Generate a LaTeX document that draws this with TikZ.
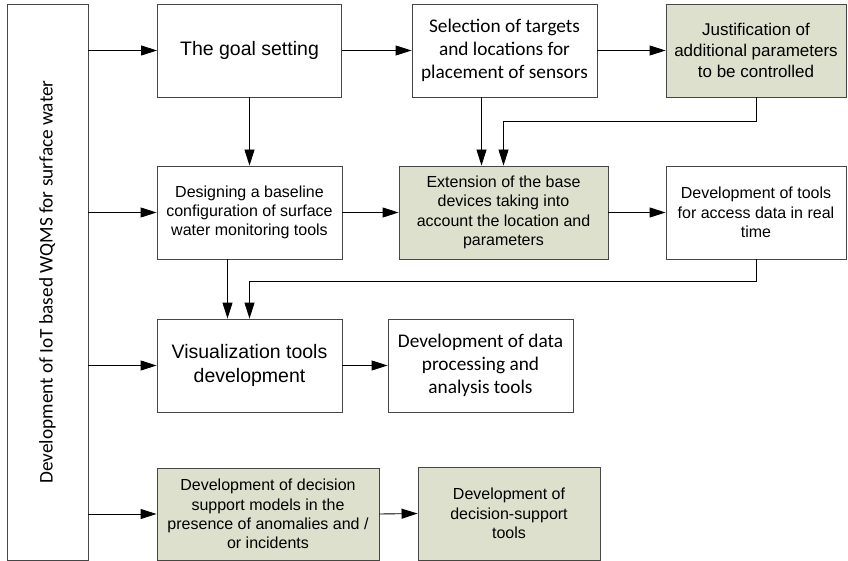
\documentclass[tikz,border=0pt]{standalone}
\usepackage{fontspec}
\setmainfont{Liberation Sans}
\newfontfamily\calfont{Carlito}
\usetikzlibrary{arrows.meta}
\definecolor{sage}{RGB}{221,224,204}
\definecolor{edgegray}{RGB}{70,70,70}

\begin{document}
\begin{tikzpicture}[x=1pt,y=-1pt,
  box/.style={draw=edgegray,line width=0.9pt,fill=white,align=center,inner sep=0pt,
    minimum height=93,font=\fontsize{16}{19.3}\selectfont},
  tint/.style={box,fill=sage},
  big/.style={font=\fontsize{19.5}{23.2}\selectfont},
  cal/.style={font=\calfont\fontsize{19.3}{23}\selectfont},
  arr/.style={-{Triangle[length=16pt,width=10pt]},line width=0.9pt}]
  \useasboundingbox (0,0) rectangle (848,561);
  % left column
  \node[box,cal,rotate=90,minimum width=556,minimum height=81] (dev) at (47.5,282)
    {Development of IoT based WQMS for surface water};
  % first row
  \node[box,big,minimum width=184] (goal) at (249.5,50.5) {The goal setting};
  \node[box,cal,minimum width=185] (sel) at (504.5,50.5)
    {Selection of targets\\and locations for\\placement of sensors};
  \node[tint,font=\fontsize{17}{21}\selectfont,minimum width=180] (just) at (756,50.5)
    {Justification of\\additional parameters\\to be controlled};
  % second row
  \node[box,minimum width=185] (design) at (249.5,212.5)
    {Designing a baseline\\configuration of surface\\water monitoring tools};
  \node[tint,minimum width=209] (ext) at (503.5,212.5)
    {Extension of the base\\devices taking into\\account the location and\\parameters};
  \node[box,minimum width=180] (access) at (756,212.5)
    {Development of tools\\for access data in real\\time};
  % third row
  \node[box,big,minimum width=185] (vis) at (249.5,365.5)
    {Visualization tools\\development};
  \node[box,cal,minimum width=185] (data) at (480.5,365.5)
    {Development of data\\processing and\\analysis tools};
  % fourth row
  \node[tint,minimum width=222,minimum height=92] (dm) at (268,514)
    {Development of decision\\support models in the\\presence of anomalies and /\\or incidents};
  \node[tint,minimum width=182] (dst) at (509,513.5)
    {Development of\\decision-support\\tools};
  % connectors
  \foreach \target in {goal,design,vis,dm}{
    \draw[arr] (dev.south |- \target) -- (\target.west);
  }
  \draw[arr] (goal.east) -- (sel.west);
  \draw[arr] (sel.east) -- (just.west);
  \draw[arr] (goal.south) -- (design.north);
  \draw[arr] (design.east) -- (ext.west);
  \draw[arr] (ext.east) -- (access.west);
  \draw[arr] (vis.east) -- (data.west);
  \draw[arr] (dm.east) -- (dst.west);
  \draw[arr] ([xshift=-23pt]sel.south) -- ([xshift=-23pt]sel.south |- ext.north);
  \draw[arr] (just.south) |- ([yshift=44pt]ext.north) -- (ext.north);
  \draw[arr] ([xshift=-22pt]design.south) -- ([xshift=-22pt]design.south |- vis.north);
  \draw[arr] (access.south) |- ([yshift=37pt]vis.north) -- (vis.north);
\end{tikzpicture}
\end{document}
